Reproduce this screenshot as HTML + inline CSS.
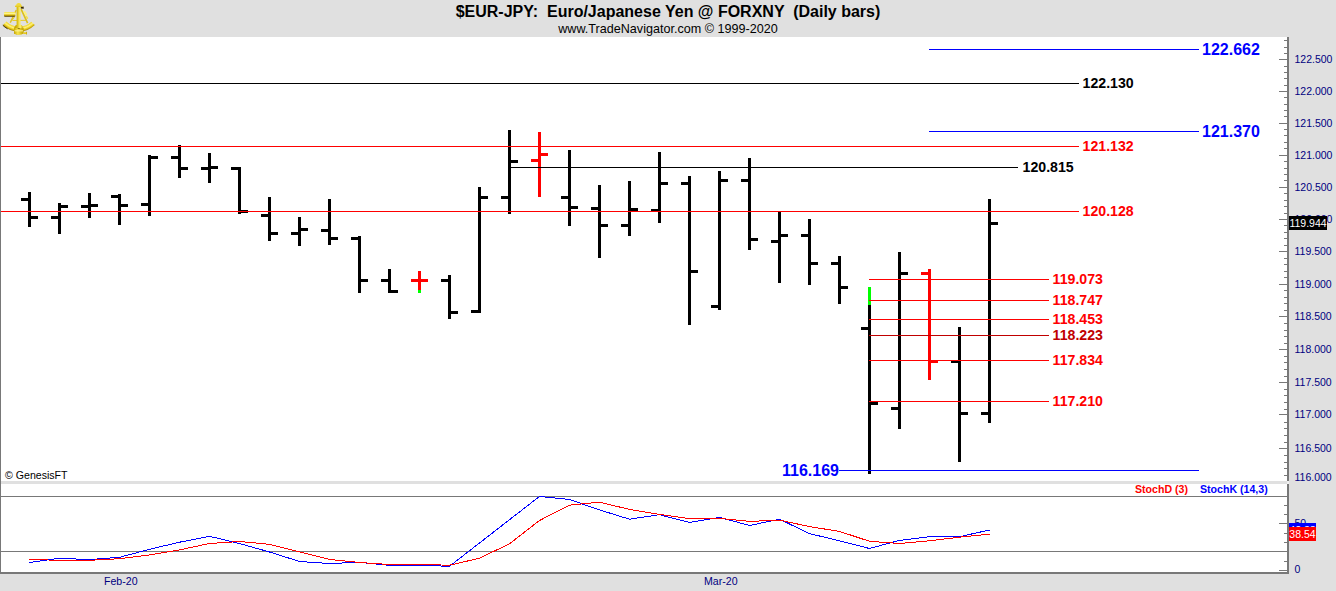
<!DOCTYPE html>
<html><head><meta charset="utf-8"><title>EUR-JPY</title>
<style>
html,body{margin:0;padding:0;}
body{width:1336px;height:591px;background:#e0e0e0;position:relative;overflow:hidden;font-family:"Liberation Sans",sans-serif;}
.abs{position:absolute;}
#main{position:absolute;left:0;top:37px;width:1287px;height:444px;background:#fff;}
#stochp{position:absolute;left:0;top:484px;width:1287px;height:88px;background:#fff;}
svg.ov{position:absolute;left:0;top:0;}
.icon{position:absolute;left:0;top:0;}
#title{position:absolute;left:0;width:1336px;top:1.5px;text-align:center;font-weight:bold;font-size:16px;line-height:20px;color:#000;white-space:pre;}
#sub{position:absolute;left:0;width:1336px;top:22px;text-align:center;font-size:12.6px;line-height:14px;color:#000;white-space:pre;}
.ax{position:absolute;left:1294.5px;font-size:10.5px;line-height:13px;color:#000080;white-space:nowrap;}
.pl{position:absolute;font-weight:bold;white-space:nowrap;}
.pl.big{font-size:16px;line-height:20px;margin-top:-9px;}
.pl.med{font-size:14.15px;line-height:18px;margin-top:-9.1px;transform:scaleY(1.07);transform-origin:50% 50%;}
.sm{position:absolute;font-size:10.6px;line-height:13px;white-space:nowrap;}
.tag{position:absolute;font-size:10.5px;line-height:14px;color:#fff;white-space:nowrap;text-align:center;}
</style></head><body>
<div id="main"></div>
<div id="stochp"></div>
<svg class="ov" width="1336" height="591" viewBox="0 0 1336 591" shape-rendering="crispEdges">
<!-- frame -->
<rect x="0" y="37" width="1" height="537" fill="#787878"/>
<rect x="0" y="572" width="1289" height="2" fill="#787878"/>
<rect x="1287" y="37" width="2" height="444" fill="#787878"/>
<rect x="1287" y="484" width="2" height="90" fill="#787878"/>
<rect x="1287" y="481" width="2" height="3" fill="#f0f0f0"/>
<!-- stoch guide lines -->
<rect x="1" y="496" width="1286" height="1" fill="#787878"/>
<rect x="1" y="551" width="1286" height="1" fill="#787878"/>
<rect x="1279" y="59" width="8" height="1" fill="#787878"/>
<rect x="1279" y="91" width="8" height="1" fill="#787878"/>
<rect x="1279" y="123" width="8" height="1" fill="#787878"/>
<rect x="1279" y="155" width="8" height="1" fill="#787878"/>
<rect x="1279" y="187" width="8" height="1" fill="#787878"/>
<rect x="1279" y="219" width="8" height="1" fill="#787878"/>
<rect x="1279" y="251" width="8" height="1" fill="#787878"/>
<rect x="1279" y="284" width="8" height="1" fill="#787878"/>
<rect x="1279" y="316" width="8" height="1" fill="#787878"/>
<rect x="1279" y="349" width="8" height="1" fill="#787878"/>
<rect x="1279" y="382" width="8" height="1" fill="#787878"/>
<rect x="1279" y="414" width="8" height="1" fill="#787878"/>
<rect x="1279" y="448" width="8" height="1" fill="#787878"/>
<rect x="1284" y="40" width="3" height="1" fill="#787878"/>
<rect x="1284" y="47" width="3" height="1" fill="#787878"/>
<rect x="1284" y="53" width="3" height="1" fill="#787878"/>
<rect x="1284" y="66" width="3" height="1" fill="#787878"/>
<rect x="1284" y="72" width="3" height="1" fill="#787878"/>
<rect x="1284" y="78" width="3" height="1" fill="#787878"/>
<rect x="1284" y="85" width="3" height="1" fill="#787878"/>
<rect x="1284" y="97" width="3" height="1" fill="#787878"/>
<rect x="1284" y="104" width="3" height="1" fill="#787878"/>
<rect x="1284" y="110" width="3" height="1" fill="#787878"/>
<rect x="1284" y="116" width="3" height="1" fill="#787878"/>
<rect x="1284" y="129" width="3" height="1" fill="#787878"/>
<rect x="1284" y="135" width="3" height="1" fill="#787878"/>
<rect x="1284" y="142" width="3" height="1" fill="#787878"/>
<rect x="1284" y="148" width="3" height="1" fill="#787878"/>
<rect x="1284" y="161" width="3" height="1" fill="#787878"/>
<rect x="1284" y="168" width="3" height="1" fill="#787878"/>
<rect x="1284" y="174" width="3" height="1" fill="#787878"/>
<rect x="1284" y="180" width="3" height="1" fill="#787878"/>
<rect x="1284" y="193" width="3" height="1" fill="#787878"/>
<rect x="1284" y="200" width="3" height="1" fill="#787878"/>
<rect x="1284" y="206" width="3" height="1" fill="#787878"/>
<rect x="1284" y="213" width="3" height="1" fill="#787878"/>
<rect x="1284" y="225" width="3" height="1" fill="#787878"/>
<rect x="1284" y="232" width="3" height="1" fill="#787878"/>
<rect x="1284" y="238" width="3" height="1" fill="#787878"/>
<rect x="1284" y="245" width="3" height="1" fill="#787878"/>
<rect x="1284" y="258" width="3" height="1" fill="#787878"/>
<rect x="1284" y="264" width="3" height="1" fill="#787878"/>
<rect x="1284" y="271" width="3" height="1" fill="#787878"/>
<rect x="1284" y="277" width="3" height="1" fill="#787878"/>
<rect x="1284" y="290" width="3" height="1" fill="#787878"/>
<rect x="1284" y="297" width="3" height="1" fill="#787878"/>
<rect x="1284" y="303" width="3" height="1" fill="#787878"/>
<rect x="1284" y="310" width="3" height="1" fill="#787878"/>
<rect x="1284" y="323" width="3" height="1" fill="#787878"/>
<rect x="1284" y="330" width="3" height="1" fill="#787878"/>
<rect x="1284" y="336" width="3" height="1" fill="#787878"/>
<rect x="1284" y="343" width="3" height="1" fill="#787878"/>
<rect x="1284" y="356" width="3" height="1" fill="#787878"/>
<rect x="1284" y="362" width="3" height="1" fill="#787878"/>
<rect x="1284" y="369" width="3" height="1" fill="#787878"/>
<rect x="1284" y="376" width="3" height="1" fill="#787878"/>
<rect x="1284" y="389" width="3" height="1" fill="#787878"/>
<rect x="1284" y="395" width="3" height="1" fill="#787878"/>
<rect x="1284" y="402" width="3" height="1" fill="#787878"/>
<rect x="1284" y="409" width="3" height="1" fill="#787878"/>
<rect x="1284" y="422" width="3" height="1" fill="#787878"/>
<rect x="1284" y="428" width="3" height="1" fill="#787878"/>
<rect x="1284" y="435" width="3" height="1" fill="#787878"/>
<rect x="1284" y="442" width="3" height="1" fill="#787878"/>
<rect x="1284" y="455" width="3" height="1" fill="#787878"/>
<rect x="1284" y="462" width="3" height="1" fill="#787878"/>
<rect x="1284" y="468" width="3" height="1" fill="#787878"/>
<rect x="1284" y="475" width="3" height="1" fill="#787878"/>
<rect x="1279" y="523" width="8" height="1" fill="#787878"/>
<rect x="1279" y="570" width="8" height="1" fill="#787878"/>
<rect x="1284" y="505" width="3" height="1" fill="#787878"/>
<rect x="1284" y="514" width="3" height="1" fill="#787878"/>
<rect x="1284" y="533" width="3" height="1" fill="#787878"/>
<rect x="1284" y="542" width="3" height="1" fill="#787878"/>
<rect x="1284" y="551" width="3" height="1" fill="#787878"/>
<rect x="1284" y="561" width="3" height="1" fill="#787878"/>
<rect x="28" y="192" width="3" height="35" fill="#000"/>
<rect x="21" y="198" width="7" height="3" fill="#000"/>
<rect x="31" y="216" width="7" height="3" fill="#000"/>
<rect x="58" y="203" width="3" height="31" fill="#000"/>
<rect x="51" y="216" width="7" height="3" fill="#000"/>
<rect x="61" y="205" width="7" height="3" fill="#000"/>
<rect x="88" y="193" width="3" height="25" fill="#000"/>
<rect x="81" y="205" width="7" height="3" fill="#000"/>
<rect x="91" y="204" width="7" height="3" fill="#000"/>
<rect x="118" y="194" width="3" height="31" fill="#000"/>
<rect x="111" y="195" width="7" height="3" fill="#000"/>
<rect x="121" y="204" width="7" height="3" fill="#000"/>
<rect x="148" y="155" width="3" height="61" fill="#000"/>
<rect x="141" y="203" width="7" height="3" fill="#000"/>
<rect x="151" y="156" width="7" height="3" fill="#000"/>
<rect x="178" y="145" width="3" height="33" fill="#000"/>
<rect x="171" y="156" width="7" height="3" fill="#000"/>
<rect x="181" y="167" width="7" height="3" fill="#000"/>
<rect x="208" y="153" width="3" height="30" fill="#000"/>
<rect x="201" y="167" width="7" height="3" fill="#000"/>
<rect x="211" y="166" width="7" height="3" fill="#000"/>
<rect x="238" y="167" width="3" height="47" fill="#000"/>
<rect x="231" y="167" width="7" height="3" fill="#000"/>
<rect x="241" y="210" width="7" height="3" fill="#000"/>
<rect x="268" y="197" width="3" height="44" fill="#000"/>
<rect x="261" y="214" width="7" height="3" fill="#000"/>
<rect x="271" y="232" width="7" height="3" fill="#000"/>
<rect x="298" y="217" width="3" height="29" fill="#000"/>
<rect x="291" y="232" width="7" height="3" fill="#000"/>
<rect x="301" y="228" width="7" height="3" fill="#000"/>
<rect x="328" y="199" width="3" height="46" fill="#000"/>
<rect x="321" y="229" width="7" height="3" fill="#000"/>
<rect x="331" y="237" width="7" height="3" fill="#000"/>
<rect x="358" y="236" width="3" height="57" fill="#000"/>
<rect x="351" y="237" width="7" height="3" fill="#000"/>
<rect x="361" y="279" width="7" height="3" fill="#000"/>
<rect x="388" y="269" width="3" height="24" fill="#000"/>
<rect x="381" y="279" width="7" height="3" fill="#000"/>
<rect x="391" y="290" width="7" height="3" fill="#000"/>
<rect x="418" y="271" width="3" height="19" fill="#f00"/>
<rect x="411" y="279" width="7" height="3" fill="#f00"/>
<rect x="421" y="279" width="7" height="3" fill="#f00"/>
<rect x="448" y="275" width="3" height="44" fill="#000"/>
<rect x="441" y="279" width="7" height="3" fill="#000"/>
<rect x="451" y="311" width="7" height="3" fill="#000"/>
<rect x="478" y="187" width="3" height="126" fill="#000"/>
<rect x="471" y="310" width="7" height="3" fill="#000"/>
<rect x="481" y="196" width="7" height="3" fill="#000"/>
<rect x="508" y="130" width="3" height="84" fill="#000"/>
<rect x="501" y="196" width="7" height="3" fill="#000"/>
<rect x="511" y="160" width="7" height="3" fill="#000"/>
<rect x="538" y="132" width="3" height="65" fill="#f00"/>
<rect x="531" y="159" width="7" height="3" fill="#f00"/>
<rect x="541" y="153" width="7" height="3" fill="#f00"/>
<rect x="568" y="150" width="3" height="76" fill="#000"/>
<rect x="561" y="196" width="7" height="3" fill="#000"/>
<rect x="571" y="206" width="7" height="3" fill="#000"/>
<rect x="598" y="185" width="3" height="73" fill="#000"/>
<rect x="591" y="207" width="7" height="3" fill="#000"/>
<rect x="601" y="224" width="7" height="3" fill="#000"/>
<rect x="628" y="181" width="3" height="55" fill="#000"/>
<rect x="621" y="224" width="7" height="3" fill="#000"/>
<rect x="631" y="208" width="7" height="3" fill="#000"/>
<rect x="658" y="152" width="3" height="71" fill="#000"/>
<rect x="651" y="209" width="7" height="3" fill="#000"/>
<rect x="661" y="182" width="7" height="3" fill="#000"/>
<rect x="688" y="176" width="3" height="149" fill="#000"/>
<rect x="681" y="182" width="7" height="3" fill="#000"/>
<rect x="691" y="270" width="7" height="3" fill="#000"/>
<rect x="718" y="171" width="3" height="139" fill="#000"/>
<rect x="711" y="305" width="7" height="3" fill="#000"/>
<rect x="721" y="179" width="7" height="3" fill="#000"/>
<rect x="748" y="158" width="3" height="92" fill="#000"/>
<rect x="741" y="179" width="7" height="3" fill="#000"/>
<rect x="751" y="238" width="7" height="3" fill="#000"/>
<rect x="778" y="211" width="3" height="72" fill="#000"/>
<rect x="771" y="240" width="7" height="3" fill="#000"/>
<rect x="781" y="234" width="7" height="3" fill="#000"/>
<rect x="808" y="219" width="3" height="66" fill="#000"/>
<rect x="801" y="234" width="7" height="3" fill="#000"/>
<rect x="811" y="262" width="7" height="3" fill="#000"/>
<rect x="838" y="256" width="3" height="48" fill="#000"/>
<rect x="831" y="262" width="7" height="3" fill="#000"/>
<rect x="841" y="286" width="7" height="3" fill="#000"/>
<rect x="868" y="305" width="3" height="169" fill="#000"/>
<rect x="861" y="327" width="7" height="3" fill="#000"/>
<rect x="871" y="402" width="7" height="3" fill="#000"/>
<rect x="898" y="252" width="3" height="177" fill="#000"/>
<rect x="891" y="407" width="7" height="3" fill="#000"/>
<rect x="901" y="272" width="7" height="3" fill="#000"/>
<rect x="928" y="269" width="3" height="111" fill="#f00"/>
<rect x="921" y="272" width="7" height="3" fill="#f00"/>
<rect x="931" y="360" width="7" height="3" fill="#f00"/>
<rect x="958" y="327" width="3" height="135" fill="#000"/>
<rect x="951" y="360" width="7" height="3" fill="#000"/>
<rect x="961" y="412" width="7" height="3" fill="#000"/>
<rect x="988" y="199" width="3" height="224" fill="#000"/>
<rect x="981" y="412" width="7" height="3" fill="#000"/>
<rect x="991" y="222" width="7" height="3" fill="#000"/>
<rect x="418" y="290" width="3" height="3" fill="#0f0"/>
<rect x="868" y="287" width="3" height="18" fill="#0f0"/>
<rect x="929" y="49" width="270" height="1" fill="#00f"/>
<rect x="1" y="83" width="1078" height="1" fill="#000"/>
<rect x="929" y="131" width="270" height="1" fill="#00f"/>
<rect x="1" y="146" width="1078" height="1" fill="#f00"/>
<rect x="511" y="167" width="507" height="1" fill="#000"/>
<rect x="1" y="211" width="1078" height="1" fill="#f00"/>
<rect x="869" y="279" width="180" height="1" fill="#f00"/>
<rect x="869" y="300" width="180" height="1" fill="#f00"/>
<rect x="869" y="319" width="180" height="1" fill="#f00"/>
<rect x="869" y="335" width="180" height="1" fill="#c00000"/>
<rect x="869" y="360" width="180" height="1" fill="#f00"/>
<rect x="869" y="401" width="180" height="1" fill="#f00"/>
<rect x="839" y="470" width="360" height="1" fill="#00f"/>
<polyline points="29.5,562.5 59.5,558.3 89.5,559.6 119.5,557.3 149.5,549.3 179.5,542.2 209.5,536.3 239.5,543.5 269.5,552.0 299.5,561.5 329.5,563.5 359.5,562.3 389.5,565.3 419.5,565.3 449.5,566.3 479.5,543.0 509.5,519.7 539.5,496.4 569.5,499.5 599.5,509.9 629.5,519.2 659.5,514.7 689.5,522.5 719.5,517.4 749.5,525.5 779.5,519.2 809.5,533.6 839.5,540.8 869.5,548.5 899.5,540.4 929.5,536.7 959.5,536.7 989.5,530.0" fill="none" stroke="#00f" stroke-width="1"/>
<polyline points="29.5,559.5 59.5,560.3 89.5,560.3 119.5,558.7 149.5,554.9 179.5,549.9 209.5,543.5 239.5,541.5 269.5,544.3 299.5,551.8 329.5,559.5 359.5,562.5 389.5,564.5 419.5,564.5 449.5,565.2 479.5,558.2 509.5,543.8 539.5,520.5 569.5,505.2 599.5,502.2 629.5,509.4 659.5,514.4 689.5,518.7 719.5,518.3 749.5,521.4 779.5,520.1 809.5,526.6 839.5,531.4 869.5,541.3 899.5,543.5 929.5,540.8 959.5,537.2 989.5,534.1" fill="none" stroke="#f00" stroke-width="1"/>
</svg>
<svg class="icon" width="40" height="37" viewBox="0 0 40 37">
<defs>
<linearGradient id="g1" x1="0" y1="0" x2="1" y2="0"><stop offset="0" stop-color="#b89a00"/><stop offset="0.35" stop-color="#d8bc10"/><stop offset="0.65" stop-color="#fff27a"/><stop offset="1" stop-color="#c8a800"/></linearGradient>
<linearGradient id="g2" x1="0" y1="0" x2="0" y2="1"><stop offset="0" stop-color="#f4dc3c"/><stop offset="0.35" stop-color="#fff68a"/><stop offset="0.65" stop-color="#e0c010"/><stop offset="0.85" stop-color="#8a6c00"/><stop offset="1" stop-color="#3c2c00"/></linearGradient>
<radialGradient id="g3" cx="19" cy="8.6" r="23.2" gradientUnits="userSpaceOnUse"><stop offset="0.78" stop-color="#f0d424"/><stop offset="0.86" stop-color="#fff27a"/><stop offset="0.93" stop-color="#e6c818"/><stop offset="1" stop-color="#947400"/></radialGradient>
<linearGradient id="g4" x1="0" y1="0" x2="1" y2="0"><stop offset="0" stop-color="#c4a400"/><stop offset="0.4" stop-color="#f8e44c"/><stop offset="1" stop-color="#c0a000"/></linearGradient>
</defs>
<path d="M2.8 25.3 A23.2 23.2 0 0 0 34.8 25.1 L31.4 21.8 A18.2 18.2 0 0 1 6.3 21.6 Z" fill="url(#g3)"/>
<path d="M2.8 25.3 A23.2 23.2 0 0 0 7.6 28.8" stroke="#3c2c00" stroke-width="0.9" fill="none"/>
<path d="M16.2 10 L10.3 22.6" stroke="#dcc01c" stroke-width="1.3" fill="none"/>
<path d="M14.4 17 L11.4 20.8" stroke="#e4c824" stroke-width="1.1" fill="none"/>
<path d="M21 8.8 L27.6 23.2" stroke="#dcc01c" stroke-width="1.7" fill="none"/>
<path d="M24.4 11.8 L26.2 14.6" stroke="#fff27a" stroke-width="2" fill="none" stroke-linecap="round"/>
<path d="M26.6 16.8 L27.4 18.2" stroke="#f4e050" stroke-width="1.6" fill="none" stroke-linecap="round"/>
<path d="M12.6 20.5 L26 20.3" stroke="#e6ca24" stroke-width="1" fill="none"/>
<rect x="4" y="11.9" width="11.4" height="4.8" rx="1" fill="url(#g2)"/>
<path d="M16.6 6.6 L20.6 6.6 L20.6 25 L21.8 25 L23.4 28 L23.4 33.4 Q18.7 36 14 33.4 L14 28 L15.8 25 L16.6 25 Z" fill="url(#g1)"/>
<path d="M14 28 L23.4 28 L23.4 33.4 Q18.7 36 14 33.4 Z" fill="url(#g4)"/>
<path d="M16 5.8 Q16.4 3 18.7 3 Q21.2 3 21.4 5.8 Z" fill="#f2da38"/>
<rect x="15" y="5.6" width="7" height="1.4" rx="0.5" fill="#e8cc20"/>
<path d="M20.8 7 L23.6 6.4 L23.8 8.8 L20.8 8.4 Z" fill="#3c2c00"/>
<rect x="14.6" y="30.2" width="8.4" height="1.2" fill="#fff6a0" opacity="0.85"/>
<rect x="17.6" y="28.2" width="2.2" height="0.7" fill="#6a5200"/>
<rect x="23.4" y="32.3" width="3.2" height="1.7" fill="#e8cc20"/>
<rect x="26.1" y="31.8" width="0.9" height="2.7" fill="#caa800"/>
</svg>
<div id="title">$EUR-JPY:  Euro/Japanese Yen @ FORXNY  (Daily bars)</div>
<div id="sub">www.TradeNavigator.com © 1999-2020</div>
<div class="ax" style="top:53px">122.500</div>
<div class="ax" style="top:85px">122.000</div>
<div class="ax" style="top:117px">121.500</div>
<div class="ax" style="top:149px">121.000</div>
<div class="ax" style="top:181px">120.500</div>
<div class="ax" style="top:213px">120.000</div>
<div class="ax" style="top:245px">119.500</div>
<div class="ax" style="top:278px">119.000</div>
<div class="ax" style="top:310px">118.500</div>
<div class="ax" style="top:343px">118.000</div>
<div class="ax" style="top:376px">117.500</div>
<div class="ax" style="top:408px">117.000</div>
<div class="ax" style="top:442px">116.500</div>
<div class="ax" style="top:471px">116.000</div>
<div class="pl big" style="left:1202px;top:49px;color:#00f">122.662</div>
<div class="pl big" style="left:1202px;top:131px;color:#00f">121.370</div>
<div class="pl big" style="right:497px;top:470px;color:#00f">116.169</div>
<div class="pl med" style="left:1082.6px;top:83px;color:#000">122.130</div>
<div class="pl med" style="left:1082.6px;top:146px;color:#f00">121.132</div>
<div class="pl med" style="left:1022.6px;top:167px;color:#000">120.815</div>
<div class="pl med" style="left:1082.6px;top:211px;color:#f00">120.128</div>
<div class="pl med" style="left:1052.6px;top:279px;color:#f00">119.073</div>
<div class="pl med" style="left:1052.6px;top:300px;color:#f00">118.747</div>
<div class="pl med" style="left:1052.6px;top:319px;color:#f00">118.453</div>
<div class="pl med" style="left:1052.6px;top:335px;color:#c00000">118.223</div>
<div class="pl med" style="left:1052.6px;top:360px;color:#f00">117.834</div>
<div class="pl med" style="left:1052.6px;top:401px;color:#f00">117.210</div>
<div class="sm" style="left:5px;top:469px;color:#000;">© GenesisFT</div>
<div class="sm" style="left:1135px;top:483px;color:#f00;font-weight:bold;">StochD (3)</div>
<div class="sm" style="left:1200px;top:483px;color:#00f;font-weight:bold;">StochK (14,3)</div>
<div class="sm" style="left:104px;top:575px;color:#000080;">Feb-20</div>
<div class="sm" style="left:704px;top:575px;color:#000080;">Mar-20</div>
<div class="ax" style="top:517px">50</div>
<div class="ax" style="top:563px">0</div>
<div class="tag" style="left:1289px;top:216px;width:38px;height:14px;background:#000;">119.944</div>
<div class="tag" style="left:1289px;top:523px;width:27px;height:14px;background:#00f;">42.33</div>
<div class="tag" style="left:1289px;top:527px;width:27px;height:14px;background:#f00;">38.54</div>
</body></html>
